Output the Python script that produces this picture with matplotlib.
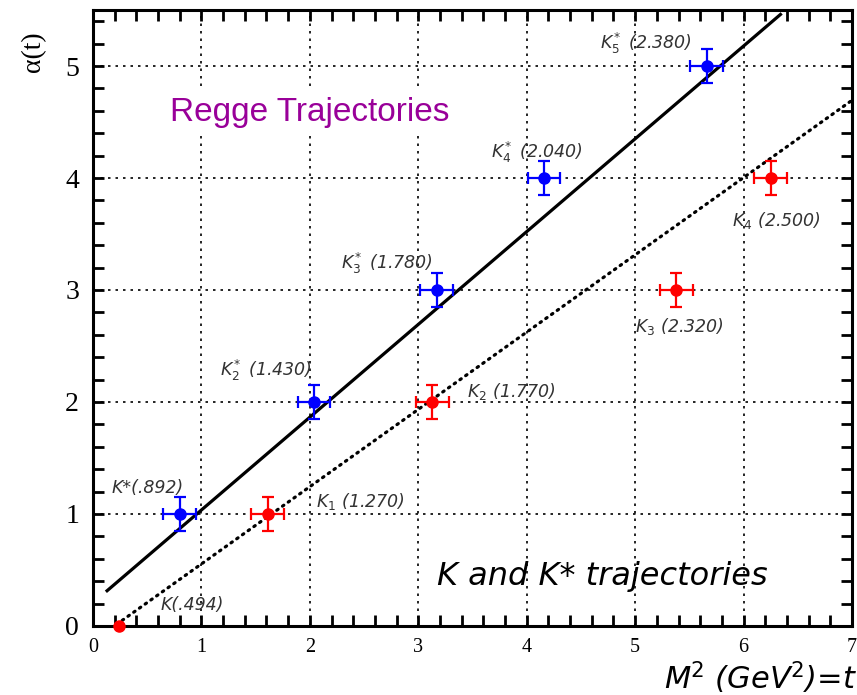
import numpy as np
import matplotlib
matplotlib.use("Agg")
import matplotlib.pyplot as plt
from matplotlib.ticker import MultipleLocator

# K* trajectory (blue): M^2 [GeV^2], alpha(t), mass label
kstar_m2 = [0.80, 2.04, 3.17, 4.16, 5.66]
kstar_alpha = [1, 2, 3, 4, 5]
kstar_labels = ['K*(.892)', 'K$_2^*$ (1.430)', 'K$_3^*$ (1.780)',
                'K$_4^*$ (2.040)', 'K$_5^*$ (2.380)']

# K trajectory (red)
k_m2 = [0.244, 1.61, 3.13, 5.38, 6.25]
k_alpha = [0, 1, 2, 3, 4]
k_labels = ['K(.494)', 'K$_1$ (1.270)', 'K$_2$ (1.770)',
            'K$_3$ (2.320)', 'K$_4$ (2.500)']

err_m2 = 0.15
err_alpha = 0.15

# straight-line fits: slope, intercept, x range
kstar_fit = (0.8286, 0.207, [0.13, 6.34])
k_fit = (0.690, -0.136, [0.27, 7.0])

# label placement (data coords, left edge / vertical centre)
kstar_lab_pos = [(0.17, 1.23), (1.17, 2.28), (2.29, 3.24), (3.67, 4.23), (4.68, 5.20)]
k_lab_pos = [(0.62, 0.19), (2.06, 1.11), (3.45, 2.09), (5.0, 2.67), (5.89, 3.62)]

fig = plt.figure(figsize=(8.57, 6.95), dpi=100)
ax = fig.add_axes([0.1085, 0.0993, 0.8857, 0.8863])

ax.set_xlim(0, 7)
ax.set_ylim(0, 5.5)

# fitted trajectories
for (sl, ic, xr), ls in [(kstar_fit, '-'), (k_fit, (0, (0.5, 1.7)))]:
    xx = np.array(xr)
    ax.plot(xx, sl * xx + ic, color='black', lw=2.3, ls=ls,
            dash_capstyle='round', zorder=3)

# data points
ax.errorbar(kstar_m2, kstar_alpha, xerr=err_m2, yerr=err_alpha, fmt='o',
            color='blue', ms=8, elinewidth=1.6, capsize=4, capthick=1.6, zorder=4)
ax.errorbar(k_m2[1:], k_alpha[1:], xerr=err_m2, yerr=err_alpha, fmt='o',
            color='red', ms=8, elinewidth=1.6, capsize=4, capthick=1.6, zorder=4)
ax.plot(k_m2[0], k_alpha[0], 'o', color='red', ms=8, clip_on=False, zorder=5)

for lab, (tx, ty) in zip(kstar_labels + k_labels, kstar_lab_pos + k_lab_pos):
    ax.text(tx, ty, lab, fontsize=12.5, style='italic', color='#333333',
            ha='left', va='center', zorder=2)

# ticks & grid
ax.xaxis.set_major_locator(MultipleLocator(1))
ax.yaxis.set_major_locator(MultipleLocator(1))
ax.xaxis.set_minor_locator(MultipleLocator(0.2))
ax.yaxis.set_minor_locator(MultipleLocator(0.2))
ax.tick_params(which='both', direction='in', length=8, width=2,
               top=True, right=True)
ax.tick_params(axis='y', labelsize=20, pad=10)
ax.tick_params(axis='x', labelsize=14.5, pad=9)
for lab in ax.get_xticklabels() + ax.get_yticklabels():
    lab.set_family('Liberation Serif')
for sp in ax.spines.values():
    sp.set_linewidth(2.2)
ax.grid(True, which='major', color='black', lw=1.2, ls=(0, (1.5, 3)))

ax.text(0.101, 0.834, 'Regge Trajectories', transform=ax.transAxes,
        fontsize=24, family='Liberation Sans', color='#990099',
        ha='left', va='center', zorder=2,
        bbox=dict(facecolor='white', edgecolor='none', pad=6))
ax.text(0.453, 0.08, 'K and K* trajectories', transform=ax.transAxes,
        fontsize=23, style='italic', color='black', ha='left', va='center')

ax.set_ylabel('α(t)', fontsize=20, family='Liberation Serif')
ax.yaxis.set_label_coords(-0.062, 0.932)
ax.set_xlabel('M$^2$ (GeV$^2$)=t', fontsize=22, style='italic')
ax.xaxis.set_label_coords(1.007, -0.055)
ax.xaxis.label.set_ha('right')

plt.savefig('out.png', dpi=100)
